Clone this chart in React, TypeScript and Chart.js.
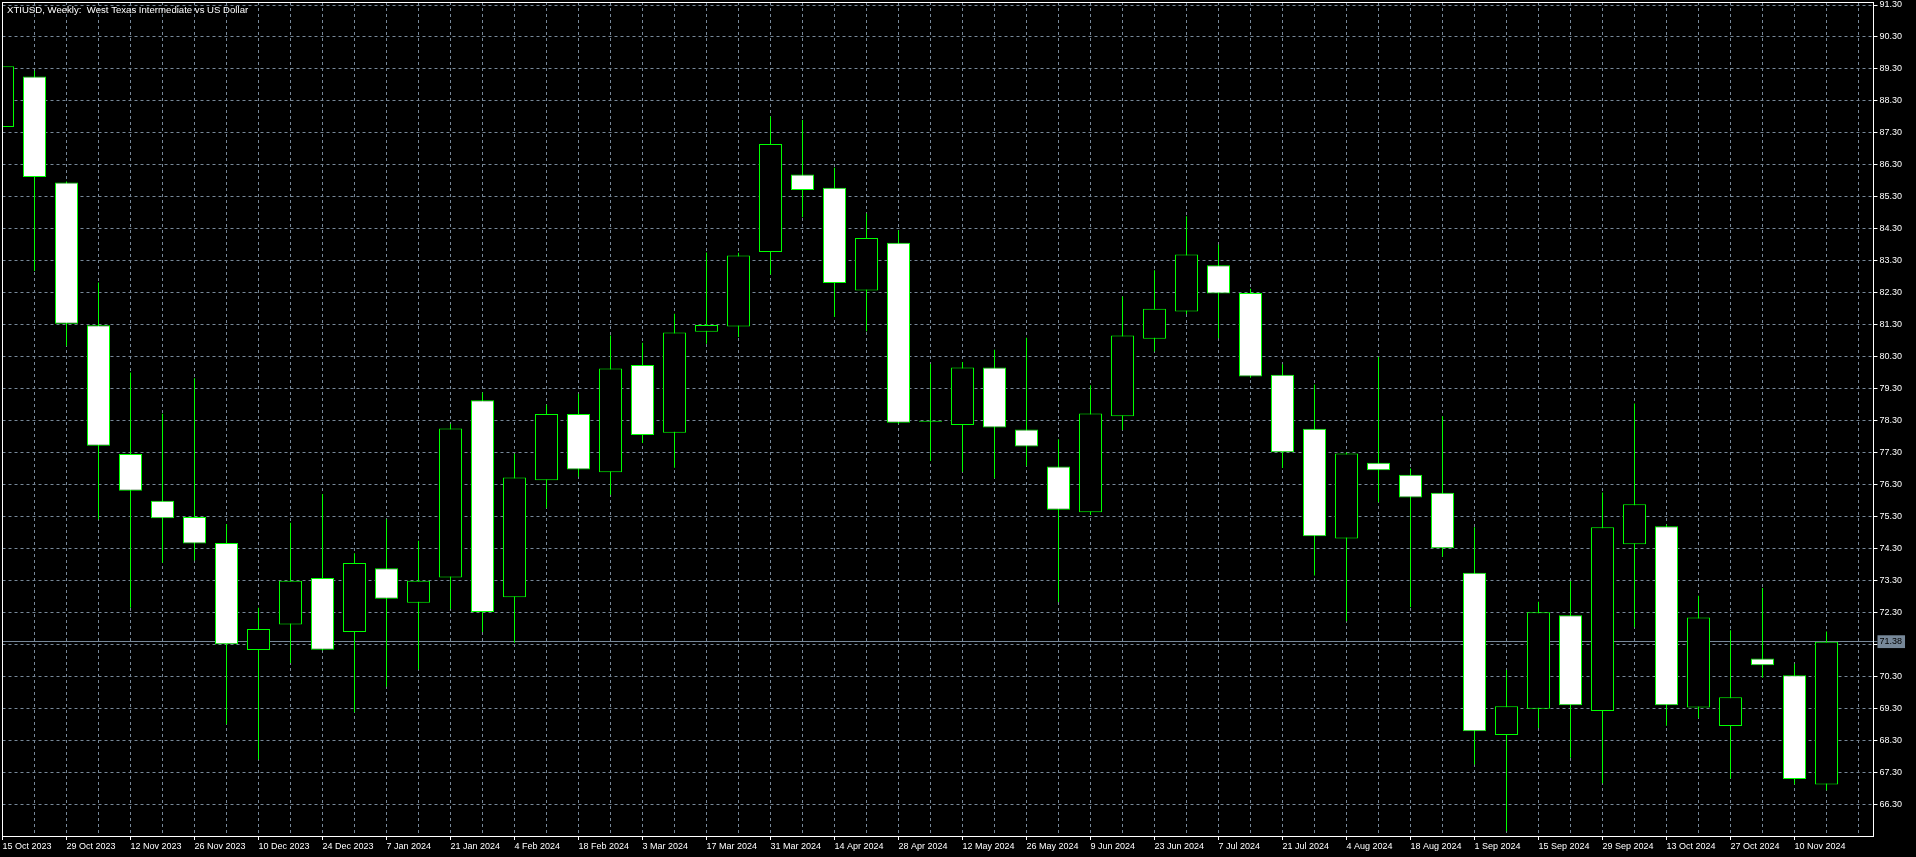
import React, { useEffect, useRef } from 'react';
import { Chart, registerables } from 'chart.js';

Chart.register(...registerables);

const TITLE = 'XTIUSD, Weekly:  West Texas Intermediate vs US Dollar';

// bi-weekly time-axis labels (one every second weekly candle)
const dateLabels = [
  '15 Oct 2023', '29 Oct 2023', '12 Nov 2023', '26 Nov 2023', '10 Dec 2023', '24 Dec 2023',
  '7 Jan 2024', '21 Jan 2024', '4 Feb 2024', '18 Feb 2024', '3 Mar 2024', '17 Mar 2024',
  '31 Mar 2024', '14 Apr 2024', '28 Apr 2024', '12 May 2024', '26 May 2024', '9 Jun 2024',
  '23 Jun 2024', '7 Jul 2024', '21 Jul 2024', '4 Aug 2024', '18 Aug 2024', '1 Sep 2024',
  '15 Sep 2024', '29 Sep 2024', '13 Oct 2024', '27 Oct 2024', '10 Nov 2024',
];

// weekly OHLC, first candle = week of 15 Oct 2023
const opens = [
  87.48, 89.06, 85.75, 81.28, 77.25, 75.79, 75.28, 74.47, 71.12, 71.92,
  73.37, 71.68, 73.68, 72.60, 73.39, 78.93, 72.77, 76.43, 78.50, 76.68,
  80.04, 77.92, 81.08, 81.24, 83.57, 86.00, 85.58, 82.37, 83.86, 78.26,
  78.16, 79.96, 78.02, 76.86, 75.43, 78.43, 80.86, 81.71, 83.16, 82.29,
  79.73, 78.04, 74.61, 76.98, 76.60, 76.04, 73.54, 68.46, 69.28, 72.21,
  69.21, 74.43, 74.99, 69.32, 68.74, 70.85, 70.33, 66.91,
];
const highs = [
  89.55, 89.24, 85.78, 82.62, 79.80, 78.51, 79.62, 75.06, 72.44, 75.10,
  76.00, 74.15, 75.21, 74.54, 78.19, 79.18, 77.26, 78.79, 79.14, 80.96,
  80.73, 81.64, 83.56, 83.55, 87.81, 87.70, 86.21, 84.78, 84.25, 80.07,
  80.13, 80.51, 80.89, 77.71, 79.40, 82.18, 83.00, 84.69, 83.80, 82.42,
  80.06, 79.43, 77.30, 80.29, 76.80, 78.43, 74.96, 70.49, 72.63, 73.28,
  76.05, 78.83, 75.05, 72.82, 71.74, 73.06, 70.69, 71.70,
];
const lows = [
  87.30, 82.98, 80.63, 75.21, 72.44, 73.85, 73.92, 68.80, 67.69, 70.71,
  71.10, 69.17, 69.97, 70.51, 72.40, 71.68, 71.35, 75.56, 76.54, 75.98,
  77.60, 76.82, 80.70, 80.91, 82.87, 84.66, 81.54, 81.09, 78.20, 77.03,
  76.70, 76.49, 76.88, 72.62, 75.34, 78.00, 80.46, 81.63, 80.87, 79.64,
  76.81, 73.45, 72.02, 75.74, 72.46, 74.04, 67.54, 65.45, 68.68, 67.75,
  66.95, 71.83, 68.75, 68.99, 67.10, 70.25, 66.92, 66.73,
];
const closes = [
  89.38, 85.92, 81.33, 77.51, 76.10, 75.24, 74.45, 71.30, 71.78, 73.29,
  71.13, 73.84, 72.72, 73.29, 78.05, 72.31, 76.52, 78.50, 76.77, 79.93,
  77.85, 81.05, 81.29, 83.46, 86.95, 85.51, 82.60, 84.01, 78.23, 78.26,
  79.96, 78.08, 77.49, 75.51, 78.52, 80.96, 81.80, 83.49, 82.27, 79.68,
  77.31, 74.68, 77.27, 76.74, 75.89, 74.30, 68.58, 69.36, 72.30, 69.39,
  74.96, 75.68, 69.39, 72.14, 69.64, 70.64, 67.08, 71.38,
];

// price-axis tick labels
const priceTicks = [
  66.3, 67.3, 68.3, 69.3, 70.3, 71.3, 72.3, 73.3, 74.3, 75.3, 76.3, 77.3, 78.3,
  79.3, 80.3, 81.3, 82.3, 83.3, 84.3, 85.3, 86.3, 87.3, 88.3, 89.3, 90.3, 91.3,
];
const lastPrice = 71.38;
const hiddenPriceTick = 71.3;

// week grid (one vertical grid line per weekly slot, incl. the empty slot on the right)
const weekSlots = [
  0, 1, 2, 3, 4, 5, 6, 7, 8, 9, 10, 11, 12, 13, 14, 15, 16, 17, 18, 19,
  20, 21, 22, 23, 24, 25, 26, 27, 28, 29, 30, 31, 32, 33, 34, 35, 36, 37, 38, 39,
  40, 41, 42, 43, 44, 45, 46, 47, 48, 49, 50, 51, 52, 53, 54, 55, 56, 57, 58,
];

const Y_MIN = 65.3;
const Y_MAX = 91.394;
const X_MIN = 0;
const X_MAX = 58.46875;

const GRID = '#778899';
const EDGE = '#00ff00';
const FONT_FAMILY = '"Liberation Sans", Arial, sans-serif';

const isLast = (c: any) => c && c.tick && Math.abs(c.tick.value - lastPrice) < 1e-6;

const framePlugin = {
  id: 'mtFrame',
  afterDraw(chart: any) {
    const { ctx, chartArea } = chart;
    ctx.save();
    ctx.font = `9.6px ${FONT_FAMILY}`;
    ctx.fillStyle = '#ffffff';
    ctx.textBaseline = 'middle';
    ctx.textAlign = 'left';
    ctx.fillText(TITLE, chartArea.left + 4.5, chartArea.top + 8.5);
    ctx.strokeStyle = '#ffffff';
    ctx.lineWidth = 1;
    const l = Math.floor(chartArea.left) + 0.5;
    const t = Math.floor(chartArea.top) + 0.5;
    const r = Math.floor(chartArea.right) + 0.5;
    const b = Math.floor(chartArea.bottom) + 0.5;
    ctx.strokeRect(l, t, r - l, b - t);
    ctx.restore();
  },
};

export default function App() {
  const ref = useRef<HTMLCanvasElement>(null);

  useEffect(() => {
    document.body.style.margin = '0';
    document.body.style.background = '#000';
    const canvas = ref.current;
    if (!canvas) return;

    const bodyData = opens.map((o, i) => ({ x: i, y: [o, closes[i]] }));
    const wickData = lows.map((l, i) => ({ x: i, y: [l, highs[i]] }));

    const chart = new Chart(canvas, {
      type: 'bar',
      data: {
        datasets: [
          {
            label: 'body',
            data: bodyData as any,
            backgroundColor: (c: any) => {
              const i = c.dataIndex;
              if (i === undefined) return '#ffffff';
              return closes[i] >= opens[i] ? '#000000' : '#ffffff';
            },
            borderColor: EDGE,
            borderWidth: 1,
            borderSkipped: false,
            barThickness: 23,
            grouped: false,
            minBarLength: 1,
            inflateAmount: 0,
            clip: 0,
            order: 0,
          } as any,
          {
            label: 'wick',
            data: wickData as any,
            backgroundColor: EDGE,
            borderColor: 'rgba(0,0,0,0)',
            borderWidth: 0,
            barThickness: 1,
            grouped: false,
            inflateAmount: 0,
            clip: 0,
            order: 1,
          } as any,
        ],
      },
      options: {
        animation: false,
        responsive: false,
        maintainAspectRatio: false,
        devicePixelRatio: 1,
        events: [],
        layout: { padding: { left: 2.5, top: 2, right: 0, bottom: 0 } },
        plugins: {
          legend: { display: false },
          tooltip: { enabled: false },
          title: { display: false },
        },
        scales: {
          x: {
            type: 'linear',
            min: X_MIN,
            max: X_MAX,
            offset: false,
            afterBuildTicks: (s: any) => {
              s.ticks = weekSlots.map((v) => ({ value: v }));
            },
            afterFit: (s: any) => {
              s.height = 21;
              s.paddingLeft = 0;
              s.paddingRight = 0;
            },
            grid: {
              offset: false,
              color: GRID,
              lineWidth: 1,
              drawTicks: true,
              tickLength: 4,
              tickWidth: 1,
              tickColor: (c: any) => {
                const v = c.tick ? c.tick.value : -1;
                return v % 2 === 0 && v / 2 < dateLabels.length ? '#ffffff' : 'rgba(0,0,0,0)';
              },
            },
            border: { display: true, color: '#ffffff', width: 1, dash: [3, 3] },
            ticks: {
              autoSkip: false,
              maxRotation: 0,
              minRotation: 0,
              align: 'start',
              padding: 1,
              color: '#ffffff',
              font: { family: FONT_FAMILY, size: 9 },
              callback: (v: any) => {
                const n = Number(v);
                if (n % 2 !== 0) return '';
                return dateLabels[n / 2] ?? '';
              },
            },
          } as any,
          y: {
            type: 'linear',
            position: 'right',
            min: Y_MIN,
            max: Y_MAX,
            beginAtZero: false,
            afterBuildTicks: (s: any) => {
              s.ticks = [...priceTicks, lastPrice].sort((a, b) => a - b).map((v) => ({ value: v }));
            },
            afterFit: (s: any) => {
              s.width = 42.5;
              s.paddingTop = 0;
              s.paddingBottom = 0;
            },
            grid: {
              color: GRID,
              lineWidth: 1,
              drawTicks: true,
              tickLength: 4,
              tickWidth: 1,
              tickColor: (c: any) => (isLast(c) ? GRID : '#ffffff'),
            },
            border: {
              display: true,
              color: '#ffffff',
              width: 1,
              dash: (c: any) => (isLast(c) ? [] : [3, 3]),
            },
            ticks: {
              autoSkip: false,
              padding: 2,
              color: (c: any) => (isLast(c) ? '#000000' : '#ffffff'),
              font: { family: FONT_FAMILY, size: 9 },
              showLabelBackdrop: (c: any) => isLast(c),
              backdropColor: GRID,
              backdropPadding: { left: 2, right: 3, top: 1, bottom: 1 },
              callback: (v: any) => {
                const n = Number(v);
                if (Math.abs(n - hiddenPriceTick) < 1e-6) return '';
                return n.toFixed(2);
              },
            },
          } as any,
        },
      },
      plugins: [framePlugin],
    });

    return () => chart.destroy();
  }, []);

  return (
    <div style={{ position: 'fixed', left: 0, top: 0, width: 1916, height: 857, background: '#000' }}>
      <canvas ref={ref} width={1916} height={857} style={{ display: 'block', width: 1916, height: 857 }} />
    </div>
  );
}
